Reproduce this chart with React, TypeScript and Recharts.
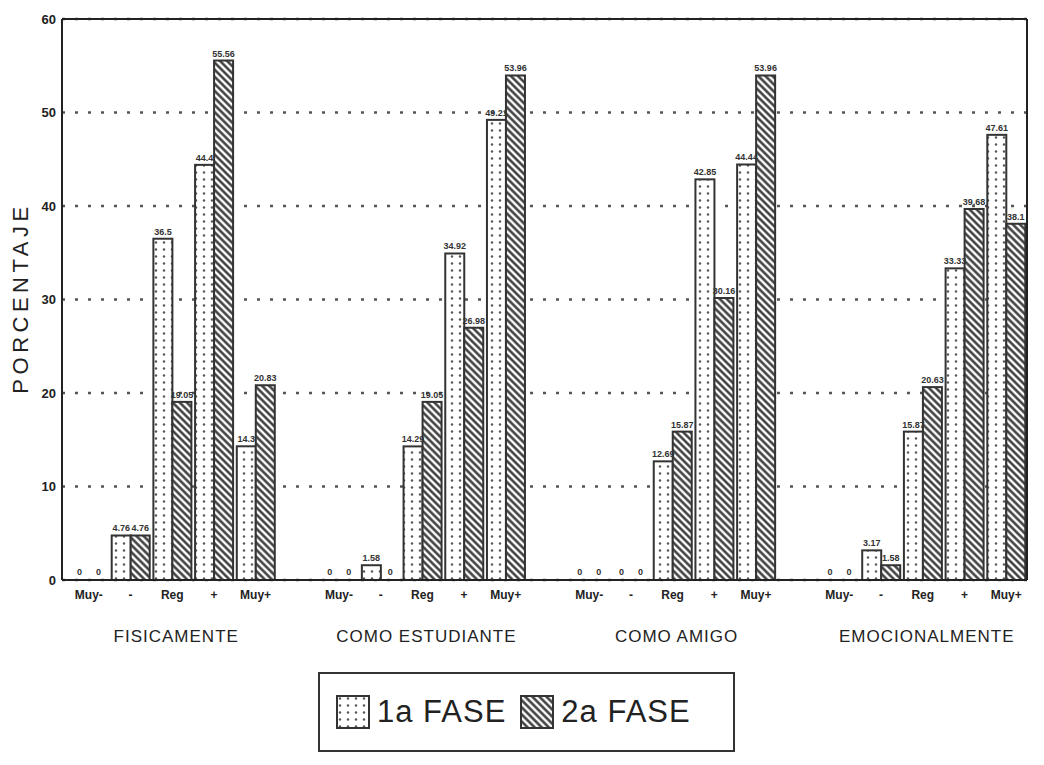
import React from 'react';
import { BarChart, Bar, XAxis, YAxis, CartesianGrid, ReferenceLine, LabelList, Label } from 'recharts';

const FONT = '"Liberation Sans", Arial, sans-serif';

const groups = ['FISICAMENTE', 'COMO ESTUDIANTE', 'COMO AMIGO', 'EMOCIONALMENTE'];
const levels = ['Muy-', '-', 'Reg', '+', 'Muy+'];
// porcentajes, 5 por grupo en el orden de levels
const fase1 = [0, 4.76, 36.5, 44.4, 14.3, 0, 1.58, 14.29, 34.92, 49.21, 0, 0, 12.69, 42.85, 44.44, 0, 3.17, 15.87, 33.33, 47.61];
const fase2 = [0, 4.76, 19.05, 55.56, 20.83, 0, 0, 19.05, 26.98, 53.96, 0, 0, 15.87, 30.16, 53.96, 0, 1.58, 20.63, 39.68, 38.1];
const yTicks = [0, 10, 20, 30, 40, 50, 60];
const series = [
  { key: 'f1', name: '1a FASE', fill: 'url(#dots)' },
  { key: 'f2', name: '2a FASE', fill: 'url(#hatch)' },
];

// one empty slot between groups
const data: any[] = [];
groups.forEach((g, gi) => {
  levels.forEach((l, li) => {
    data.push({ key: `${gi}-${li}`, level: l, group: g, f1: fase1[gi * 5 + li], f2: fase2[gi * 5 + li] });
  });
  if (gi < groups.length - 1) data.push({ key: `gap${gi}`, level: '', group: '' });
});

function LevelTick(props: any) {
  const { x, y, payload } = props;
  const d = data.find((r) => r.key === payload.value);
  if (!d || !d.level) return null;
  return (
    <g>
      <text x={x} y={y + 11} textAnchor="middle" fontSize={12} fontWeight="bold" fill="#222" fontFamily={FONT}>
        {d.level}
      </text>
      {d.level === 'Reg' && (
        <text x={x + 4} y={y + 54} textAnchor="middle" fontSize={17} letterSpacing={1} fill="#222" fontFamily={FONT}>
          {d.group}
        </text>
      )}
    </g>
  );
}

// zero bars get a 1px stub so their label is kept, but the stub is not drawn
const stub = (v: any) => (v === 0 ? 1 : 0);

function BarShape(props: any) {
  const { x, y, width, height, fill, stroke, strokeWidth, dataKey, payload } = props;
  if (!payload || !payload[dataKey]) return null;
  return <rect x={x} y={y} width={width} height={height} fill={fill} stroke={stroke} strokeWidth={strokeWidth} />;
}

function TopLabel(props: any) {
  const { x, y, width, value } = props;
  if (value == null || x == null) return null;
  return (
    <text x={x + width / 2} y={y - 4} textAnchor="middle" fontSize={9} fontWeight="bold" fill="#333" fontFamily={FONT}>
      {String(value)}
    </text>
  );
}

export default function App() {
  return (
    <div style={{ position: 'relative', width: 1036, height: 757, fontFamily: FONT }}>
      <svg width={0} height={0} style={{ position: 'absolute' }}>
        <defs>
          <pattern id="dots" width={8} height={7} patternUnits="userSpaceOnUse">
            <rect width={8} height={7} fill="#fff" />
            <circle cx={4} cy={3.5} r={1.2} fill="#555" />
          </pattern>
          <pattern id="hatch" width={5} height={5} patternUnits="userSpaceOnUse" patternTransform="rotate(-45)">
            <rect width={5} height={5} fill="#fff" />
            <line x1={2.5} y1={0} x2={2.5} y2={5} stroke="#333" strokeWidth={2.4} />
          </pattern>
        </defs>
      </svg>
      <BarChart
        width={1036}
        height={757}
        data={data}
        margin={{ top: 11, right: 16, left: 0, bottom: 115 }}
        barCategoryGap={2}
        barGap={0}
      >
        <CartesianGrid vertical={false} stroke="#555" strokeWidth={2.5} strokeDasharray="3 10" />
        <XAxis
          dataKey="key"
          interval={0}
          height={70}
          tick={<LevelTick />}
          tickLine={false}
          axisLine={{ stroke: '#222', strokeWidth: 2 }}
          padding={{ left: 6, right: 0 }}
        />
        <YAxis
          width={54}
          domain={[0, 60]}
          ticks={yTicks}
          interval={0}
          tickLine={false}
          tickSize={4}
          tickMargin={2}
          axisLine={{ stroke: '#222', strokeWidth: 2 }}
          tick={{ fontSize: 13, fontWeight: 'bold', fill: '#222', fontFamily: FONT }}
        >
          <Label
            content={() => (
              <text
                x={20}
                y={290}
                transform="rotate(-90 20 290)"
                textAnchor="middle"
                fontSize={22}
                letterSpacing={4.5}
                fill="#222"
                fontFamily={FONT}
              >
                PORCENTAJE
              </text>
            )}
          />
        </YAxis>
        <YAxis yAxisId="right" orientation="right" width={1} domain={[0, 60]} tick={false} tickLine={false} axisLine={{ stroke: '#222', strokeWidth: 2 }} />
        <ReferenceLine y={60} stroke="#222" strokeWidth={2} />
        {series.map((s) => (
          <Bar
            key={s.key}
            dataKey={s.key}
            name={s.name}
            fill={s.fill}
            stroke="#333"
            strokeWidth={2}
            minPointSize={stub}
            shape={<BarShape dataKey={s.key} />}
            isAnimationActive={false}
          >
            <LabelList dataKey={s.key} content={<TopLabel />} />
          </Bar>
        ))}
      </BarChart>
      <div
        style={{
          position: 'absolute',
          left: 310,
          top: 664,
          width: 417,
          height: 80,
          boxSizing: 'border-box',
          border: '2px solid #333',
          display: 'flex',
          alignItems: 'center',
          paddingLeft: 16,
        }}
      >
        {series.map((s, i) => (
          <div key={s.key} style={{ display: 'flex', alignItems: 'center', marginRight: i === 0 ? 14 : 0 }}>
            <svg width={34} height={34}>
              <rect x={1} y={1} width={32} height={32} fill={s.fill} stroke="#333" strokeWidth={2} />
            </svg>
            <span style={{ fontSize: 31, color: '#222', marginLeft: 7, letterSpacing: 1 }}>{s.name}</span>
          </div>
        ))}
      </div>
    </div>
  );
}
